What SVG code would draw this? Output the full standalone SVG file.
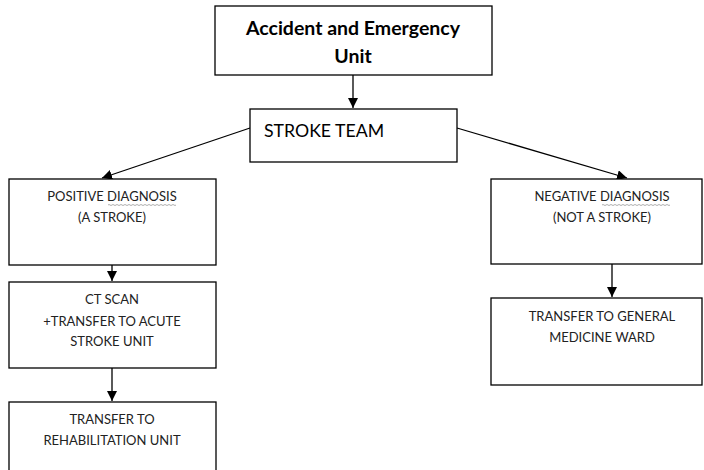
<svg xmlns="http://www.w3.org/2000/svg" width="704" height="470" viewBox="0 0 704 470">
<style>
.box{fill:#fff;stroke:#000;stroke-width:1.3}
.t{font-family:Lato,"Liberation Sans",Arial,sans-serif;font-size:13px;fill:#222;text-anchor:middle}
.b{font-family:Lato,"Liberation Sans",Arial,sans-serif;font-size:19.5px;font-weight:bold;fill:#000;text-anchor:middle}
.s{font-family:Lato,"Liberation Sans",Arial,sans-serif;font-size:17.7px;fill:#000}
.c{stroke:#000;stroke-width:1.3;fill:none;marker-end:url(#ah)}
.w{stroke:#999;stroke-width:0.8;fill:none}
</style>
<defs>
<marker id="ah" viewBox="0 0 10 10" refX="10" refY="5" markerWidth="10" markerHeight="10" markerUnits="userSpaceOnUse" orient="auto">
<path d="M0,0 L10,5 L0,10 z" fill="#000"/>
</marker>
</defs>
<g id="connectors">
<line class="c" x1="353" y1="75" x2="353" y2="108"/>
<line class="c" x1="250" y1="128" x2="102" y2="178"/>
<line class="c" x1="457" y1="128" x2="627" y2="178"/>
<line class="c" x1="112" y1="265" x2="112" y2="281"/>
<line class="c" x1="112" y1="368" x2="112" y2="401"/>
<line class="c" x1="612" y1="264" x2="612" y2="297"/>
</g>
<g id="ae">
<rect class="box" x="215" y="6" width="277" height="69"/>
<text class="b" x="353" y="35">Accident and Emergency</text>
<text class="b" x="353" y="63">Unit</text>
</g>
<g id="stroke-team">
<rect class="box" x="250" y="109" width="207" height="53"/>
<text class="s" x="264" y="137">STROKE TEAM</text>
</g>
<g id="positive">
<rect class="box" x="9" y="179" width="207" height="86"/>
<text class="t" x="112" y="201">POSITIVE DIAGNOSIS</text>
<path class="w" d="M108,205 q1,-1 2,0 t2,0 t2,0 t2,0 t2,0 t2,0 t2,0 t2,0 t2,0 t2,0 t2,0 t2,0 t2,0 t2,0 t2,0 t2,0 t2,0 t2,0 t2,0 t2,0 t2,0 t2,0 t2,0 t2,0 t2,0 t2,0 t2,0 t2,0 t2,0 t2,0 t2,0 t2,0 t2,0 t2,0"/>
<text class="t" x="112" y="222">(A STROKE)</text>
</g>
<g id="ct-scan">
<rect class="box" x="9" y="282" width="207" height="86"/>
<text class="t" x="112" y="304">CT SCAN</text>
<text class="t" x="112" y="326">+TRANSFER TO ACUTE</text>
<text class="t" x="112" y="346">STROKE UNIT</text>
</g>
<g id="rehab">
<rect class="box" x="9" y="402" width="207" height="86"/>
<text class="t" x="112" y="424">TRANSFER TO</text>
<text class="t" x="112" y="445">REHABILITATION UNIT</text>
</g>
<g id="negative">
<rect class="box" x="491" y="179" width="211" height="85"/>
<text class="t" x="602" y="201">NEGATIVE DIAGNOSIS</text>
<path class="w" d="M602,205 q1,-1 2,0 t2,0 t2,0 t2,0 t2,0 t2,0 t2,0 t2,0 t2,0 t2,0 t2,0 t2,0 t2,0 t2,0 t2,0 t2,0 t2,0 t2,0 t2,0 t2,0 t2,0 t2,0 t2,0 t2,0 t2,0 t2,0 t2,0 t2,0 t2,0 t2,0 t2,0 t2,0 t2,0 t2,0"/>
<text class="t" x="602" y="222">(NOT A STROKE)</text>
</g>
<g id="general">
<rect class="box" x="491" y="298" width="211" height="87"/>
<text class="t" x="602" y="321">TRANSFER TO GENERAL</text>
<text class="t" x="602" y="342">MEDICINE WARD</text>
</g>
</svg>
